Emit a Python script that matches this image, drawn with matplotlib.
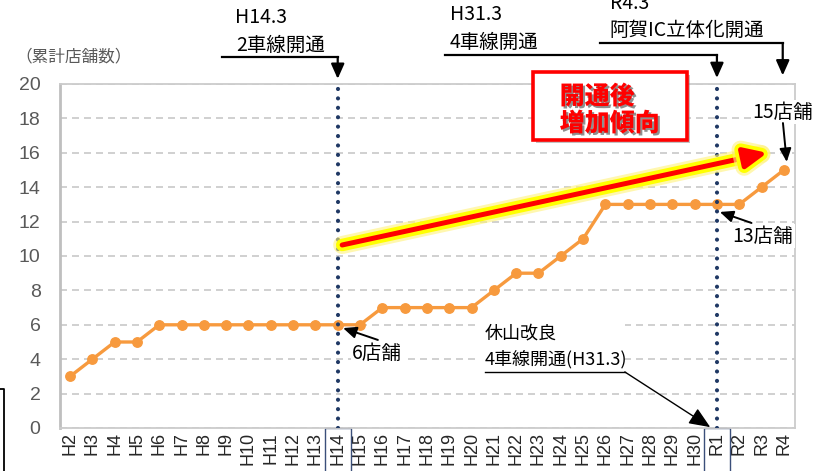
import matplotlib

matplotlib.use("Agg")
import matplotlib.pyplot as plt  # noqa: E402
import matplotlib.patches as mpatches  # noqa: E402
import matplotlib.patheffects as pe  # noqa: E402
import matplotlib.transforms as mtransforms  # noqa: E402
from matplotlib.lines import Line2D  # noqa: E402

plt.rcParams["font.family"] = ["Noto Sans CJK JP", "DejaVu Sans"]

# Fiscal years: Heisei 2..30, then Reiwa 1..4
YEARS = [f"H{i}" for i in range(2, 31)] + [f"R{i}" for i in range(1, 5)]
# Cumulative number of stores
STORES = [3, 4, 5, 5, 6, 6, 6, 6, 6, 6, 6, 6, 6, 6, 7, 7, 7, 7, 7,
          8, 9, 9, 10, 11, 13, 13, 13, 13, 13, 13, 13, 14, 15]
OPEN_2LANE = "H14"  # 2-lane opening, H14.3
OPEN_4LANE = "R1"   # 4-lane opening, H31.3
OPEN_IC = "R4"      # Aga IC grade separation, R4.3

LINE_COLOR = "#F79A3E"
NAVY = "#1F3864"
GRID_GRAY = "#C8C8C8"
TICK_GRAY = "#595959"
NARROW = ["Liberation Sans Narrow", "Liberation Sans", "DejaVu Sans"]

fig = plt.figure(figsize=(8.31, 4.71), dpi=100)
ax = fig.add_axes([60 / 831, 1 - 428 / 471, 735 / 831, 344 / 471])

x = list(range(len(YEARS)))
ax.plot(x, STORES, color=LINE_COLOR, lw=2.4, marker="o", ms=6.8,
        mec=LINE_COLOR, mfc=LINE_COLOR, zorder=4)

ax.set_xlim(-0.45, 32.5)
ax.set_ylim(0, 20)
ax.set_yticks(range(0, 21, 2))
ax.set_xticks(x)
ax.set_xticklabels(YEARS, rotation=90, fontsize=13, family=NARROW,
                   color="#262626")
for lab in ax.get_yticklabels():
    lab.set_family(NARROW)
ax.tick_params(axis="y", length=0, pad=14, labelsize=14, labelcolor=TICK_GRAY)
ax.tick_params(axis="x", length=0, pad=3)

ax.set_axisbelow(True)
ax.grid(axis="y", color=GRID_GRAY, lw=1.2, ls=(0, (4.2, 3.0)))
for side, sp in ax.spines.items():
    sp.set_color("#CCCCCC")
    sp.set_linewidth(1.3)
ax.spines["left"].set_color("#BFBFBF")
ax.spines["left"].set_linewidth(2)

# dotted markers for the openings
i14 = YEARS.index(OPEN_2LANE)
ir1 = YEARS.index(OPEN_4LANE)
iic = YEARS.index(OPEN_IC)
for xi in (i14, ir1):
    ax.axvline(xi, color=NAVY, lw=3.0, ls=(0, (0.01, 2.25)),
               dash_capstyle="round", zorder=5)

# boxes around the highlighted tick labels
blend = mtransforms.blended_transform_factory(ax.transData, ax.transAxes)
for xi in (i14, ir1):
    ax.add_patch(mpatches.Rectangle((xi - 0.58, -0.2), 1.16, 0.2,
                                    transform=blend, fill=False,
                                    ec="#3B4F7A", lw=1.0, clip_on=False))

# upward trend arrow after the opening
glow = [pe.withStroke(linewidth=13, foreground="#FFF27A", alpha=0.6),
        pe.withStroke(linewidth=9, foreground="#FFFF00")]
ax.annotate("", xy=(31.26, 16.0), xytext=(i14 + 0.2, 10.64),
            arrowprops=dict(arrowstyle="-|>,head_length=1.0,head_width=0.45",
                            mutation_scale=14, color="#FF0000", lw=3.6,
                            shrinkA=0, shrinkB=0, path_effects=glow),
            zorder=6)

# event labels at the top
ev_style = dict(fontsize=14, color="black", ha="left", va="center",
                clip_on=False)
ax.text(7.4, 23.84, "H14.3", **ev_style)
ax.text(7.45, 22.27, "2車線開通", **ev_style)
ax.text(17.03, 24.05, "H31.3", **ev_style)
ax.text(17.03, 22.44, "4車線開通", **ev_style)
ax.text(24.2, 24.7, "R4.3", **ev_style)
ax.text(24.2, 23.14, "阿賀IC立体化開通", **ev_style)

ev_arrow = dict(arrowstyle="-|>,head_length=0.9,head_width=0.4",
                mutation_scale=10, color="black", lw=1.6,
                shrinkA=0, shrinkB=0)
for x0, x1, yl, ytip in ((6.81, i14, 21.57, 20.3),
                         (16.81, ir1, 21.69, 20.35),
                         (23.75, iic - 0.05, 22.38, 20.5)):
    ax.add_line(Line2D([x0, x1], [yl, yl], color="black", lw=1.6,
                       clip_on=False))
    ax.annotate("", xy=(x1, ytip), xytext=(x1, yl), arrowprops=ev_arrow,
                annotation_clip=False)

# store count call-outs
pt_arrow = dict(arrowstyle="-|>,head_length=0.8,head_width=0.35",
                mutation_scale=10, color="black", lw=1.4,
                shrinkA=0, shrinkB=0)
wbox = dict(facecolor="white", edgecolor="none", pad=1.0)
ax.text(13.76, 4.36, f"{STORES[i14]}店舗", fontsize=14, ha="center",
        va="center", bbox=wbox, zorder=3)
ax.annotate("", xy=(i14 + 0.24, STORES[i14] - 0.19), xytext=(13.8, 5.12),
            arrowprops=pt_arrow, zorder=6)
ax.text(31.06, 11.16, f"{STORES[ir1]}店舗", fontsize=14, ha="center",
        va="center", bbox=wbox, zorder=3)
ax.annotate("", xy=(ir1 + 0.13, STORES[ir1] - 0.44), xytext=(30.55, 11.92),
            arrowprops=pt_arrow, zorder=6)
ax.text(31.96, 18.37, f"{STORES[iic]}店舗", fontsize=14, ha="center",
        va="center", bbox=wbox, zorder=3, clip_on=False)
ax.annotate("", xy=(iic + 0.13, STORES[iic] + 0.47), xytext=(31.96, 17.73),
            arrowprops=pt_arrow, zorder=6)

# 4-lane opening note near the bottom
ax.add_patch(mpatches.Rectangle((18.3, 2.9), 6.6, 3.6, fc="white",
                                ec="none", zorder=1))
ax.text(18.6, 5.52, "休山改良", fontsize=13, ha="left", va="center",
        zorder=3)
ax.text(18.6, 4.01, "4車線開通(H31.3)", fontsize=13, ha="left",
        va="center", zorder=3)
ax.add_line(Line2D([18.6, 24.87], [3.26, 3.26], color="black", lw=1.0,
                   zorder=3))
ax.annotate("", xy=(ir1 - 0.3, 0.05), xytext=(24.87, 3.26),
            arrowprops=dict(arrowstyle="-|>,head_length=1.0,head_width=0.42",
                            mutation_scale=13, color="black", lw=1.0,
                            shrinkA=0, shrinkB=0),
            zorder=6)

# red call-out box
ax.add_patch(mpatches.Rectangle((20.75, 16.74), 6.9, 3.96, fc="white",
                                ec="#FF0000", lw=2.6, clip_on=False,
                                zorder=7,
                                path_effects=[pe.SimplePatchShadow(
                                    offset=(2, -2), shadow_rgbFace="#888888",
                                    alpha=0.5), pe.Normal()]))
red_txt = dict(fontsize=18, fontweight="heavy", color="#FF0000", ha="left",
               va="center", zorder=8, clip_on=False,
               path_effects=[pe.withSimplePatchShadow(
                   offset=(1.5, -1.5), shadow_rgbFace="#444444", alpha=0.6)])
ax.text(21.95, 19.3, "開通後", **red_txt)
ax.text(21.95, 17.73, "増加傾向", **red_txt)

fig.text(15 / 831, 1 - 57 / 471, "（累計店舗数）", fontsize=12,
         color=TICK_GRAY, ha="left", va="center")
fig.add_artist(Line2D([0, 4 / 831, 4 / 831], [1 - 389 / 471, 1 - 389 / 471, 0],
                      color="black", lw=1.3, transform=fig.transFigure))

fig.savefig("out.png", dpi=100)
